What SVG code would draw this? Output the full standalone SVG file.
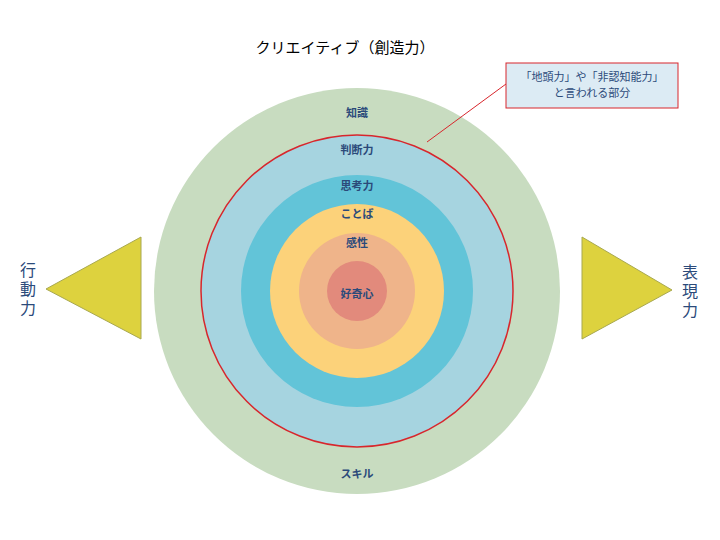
<svg xmlns="http://www.w3.org/2000/svg" width="720" height="540" viewBox="0 0 720 540">
<style>
.l{font-family:"Noto Sans CJK JP",sans-serif;font-size:11px;fill:#2b4a7a;text-anchor:middle;font-weight:bold}
.v{font-family:"Noto Sans CJK JP",sans-serif;font-size:16px;fill:#2b4a7a;text-anchor:middle;writing-mode:vertical-rl;letter-spacing:3px}
.tri{fill:#ddd23e;stroke:#a8a850;stroke-width:1}
</style>
<rect width="720" height="540" fill="#fff"/>
<text x="345" y="53" font-family="Noto Sans CJK JP,sans-serif" font-size="15" text-anchor="middle" fill="#000">クリエイティブ（創造力）</text>
<g id="rings">
<circle cx="357" cy="291" r="203" fill="#c8dcc0"/>
<circle cx="357" cy="291" r="156" fill="#a6d4e0" stroke="#d8262c" stroke-width="1.5"/>
<circle cx="357" cy="291" r="116" fill="#62c4d8"/>
<circle cx="357" cy="291" r="87" fill="#fcd27a"/>
<circle cx="357" cy="291" r="58" fill="#efb48a"/>
<circle cx="357" cy="291" r="30" fill="#e28a7c"/>
</g>
<g id="labels">
<text class="l" x="357" y="117">知識</text>
<text class="l" x="357" y="154">判断力</text>
<text class="l" x="357" y="190">思考力</text>
<text class="l" x="357" y="218">ことば</text>
<text class="l" x="357" y="247">感性</text>
<text class="l" x="357" y="298">好奇心</text>
<text class="l" x="357" y="478">スキル</text>
</g>
<g id="connectors"><line x1="506" y1="84" x2="427" y2="142" stroke="#d8262c" stroke-width="1"/></g>
<g id="callout">
<rect x="506" y="63" width="172" height="45" fill="#dcebf4" stroke="#d8262c" stroke-width="1"/>
<text class="l" x="592" y="81" style="font-weight:normal">「地頭力」や「非認知能力」</text>
<text class="l" x="592" y="97" style="font-weight:normal">と言われる部分</text>
</g>
<g id="left">
<polygon class="tri" points="141,237 141,339 46,289"/>
<text class="v" x="28" y="290">行動力</text>
</g>
<g id="right">
<polygon class="tri" points="582,237 582,339 672,290"/>
<text class="v" x="690" y="292">表現力</text>
</g>
</svg>
